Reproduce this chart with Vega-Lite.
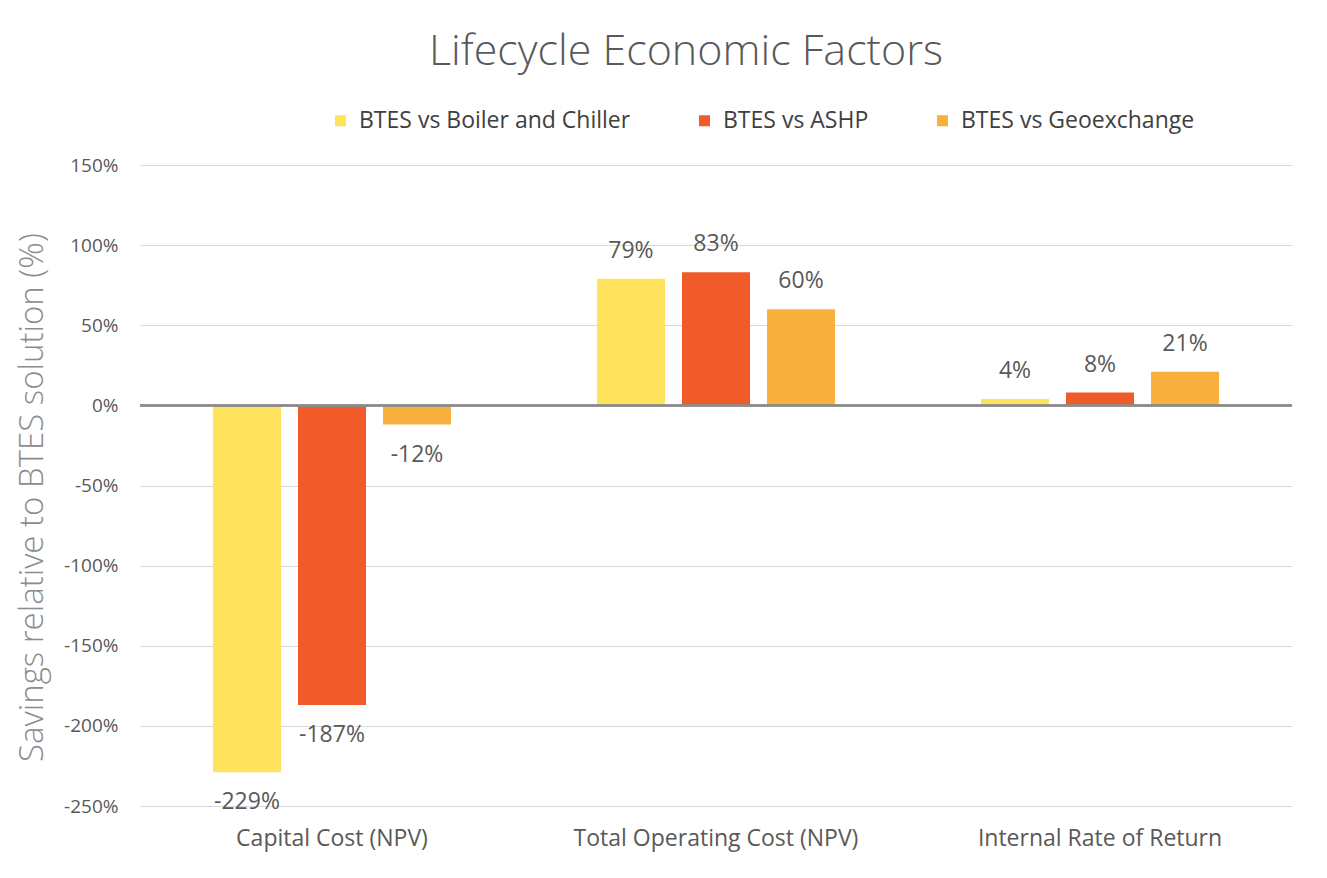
{
  "$schema": "https://vega.github.io/schema/vega-lite/v6.json",
  "width": 1152,
  "height": 641,
  "autosize": {"type": "none"},
  "padding": {"left": 140, "top": 165, "right": 35, "bottom": 72},
  "background": "white",
  "title": {
    "text": "Lifecycle Economic Factors",
    "fontSize": 43,
    "font": "Open Sans",
    "fontWeight": 300,
    "color": "#595959",
    "anchor": "middle",
    "frame": "group",
    "baseline": "alphabetic",
    "dx": -30,
    "offset": 1
  },
  "data": {
    "values": [
      {"category": "Capital Cost (NPV)", "series": "BTES vs Boiler and Chiller", "value": -2.29},
      {"category": "Capital Cost (NPV)", "series": "BTES vs ASHP", "value": -1.87},
      {"category": "Capital Cost (NPV)", "series": "BTES vs Geoexchange", "value": -0.12},
      {"category": "Total Operating Cost (NPV)", "series": "BTES vs Boiler and Chiller", "value": 0.79},
      {"category": "Total Operating Cost (NPV)", "series": "BTES vs ASHP", "value": 0.83},
      {"category": "Total Operating Cost (NPV)", "series": "BTES vs Geoexchange", "value": 0.60},
      {"category": "Internal Rate of Return", "series": "BTES vs Boiler and Chiller", "value": 0.04},
      {"category": "Internal Rate of Return", "series": "BTES vs ASHP", "value": 0.08},
      {"category": "Internal Rate of Return", "series": "BTES vs Geoexchange", "value": 0.21}
    ]
  },
  "transform": [
    {"calculate": "replace(format(datum.value, '.0%'), '\u2212', '-')", "as": "label"}
  ],
  "encoding": {
    "x": {
      "field": "category",
      "type": "nominal",
      "sort": ["Capital Cost (NPV)", "Total Operating Cost (NPV)", "Internal Rate of Return"],
      "scale": {"paddingInner": 0.38, "paddingOuter": 0.19},
      "axis": {
        "title": null,
        "labelAngle": 0,
        "labelLimit": 0,
        "domain": false,
        "ticks": false,
        "labelPadding": 21,
        "labelFontSize": 23,
        "labelFont": "Open Sans",
        "labelColor": "#595959"
      }
    },
    "xOffset": {
      "field": "series",
      "type": "nominal",
      "sort": ["BTES vs Boiler and Chiller", "BTES vs ASHP", "BTES vs Geoexchange"],
      "scale": {"paddingInner": 0.2, "paddingOuter": 0}
    },
    "y": {
      "field": "value",
      "type": "quantitative",
      "scale": {"domain": [-2.5, 1.5], "nice": false},
      "axis": {
        "title": "Savings relative to BTES solution (%)",
        "titleFontSize": 33,
        "titleFont": "Open Sans",
        "titleFontWeight": 300,
        "titleColor": "#8c8c8c",
        "titlePadding": 14,
        "titleY": 332,
        "format": ".0%",
        "labelExpr": "replace(datum.label, '\u2212', '-')",
        "values": [-2.5, -2, -1.5, -1, -0.5, 0, 0.5, 1, 1.5],
        "domain": false,
        "ticks": false,
        "labelPadding": 22,
        "labelFontSize": 19,
        "labelFont": "Open Sans",
        "labelColor": "#595959",
        "gridColor": "#d9d9d9",
        "gridWidth": 1
      }
    }
  },
  "layer": [
    {
      "mark": {"type": "bar"},
      "encoding": {
        "color": {
          "field": "series",
          "type": "nominal",
          "sort": ["BTES vs Boiler and Chiller", "BTES vs ASHP", "BTES vs Geoexchange"],
          "scale": {
            "domain": ["BTES vs Boiler and Chiller", "BTES vs ASHP", "BTES vs Geoexchange"],
            "range": ["#FFE35C", "#F15A29", "#F8B13F"]
          },
          "legend": {
            "title": null,
            "orient": "none",
            "direction": "horizontal",
            "legendX": 189,
            "legendY": -56,
            "symbolType": "square",
            "symbolSize": 121,
            "symbolStrokeWidth": 0,
            "labelFontSize": 23,
            "labelLimit": 0,
            "labelFont": "Open Sans",
            "labelColor": "#404040",
            "columnPadding": 62,
            "labelOffset": 7
          }
        }
      }
    },
    {
      "mark": {"type": "rule", "color": "#8c8c8c", "strokeWidth": 1.5},
      "encoding": {"y": {"datum": 0}, "x": {}, "xOffset": {}}
    },
    {
      "transform": [{"filter": "datum.value >= 0"}],
      "mark": {"type": "text", "baseline": "alphabetic", "dy": -21, "fontSize": 23, "font": "Open Sans", "color": "#595959"},
      "encoding": {"text": {"field": "label", "type": "nominal"}}
    },
    {
      "transform": [{"filter": "datum.value < 0"}],
      "mark": {"type": "text", "baseline": "top", "dy": 19, "fontSize": 23, "font": "Open Sans", "color": "#595959"},
      "encoding": {"text": {"field": "label", "type": "nominal"}}
    }
  ],
  "config": {"view": {"stroke": null}}
}
